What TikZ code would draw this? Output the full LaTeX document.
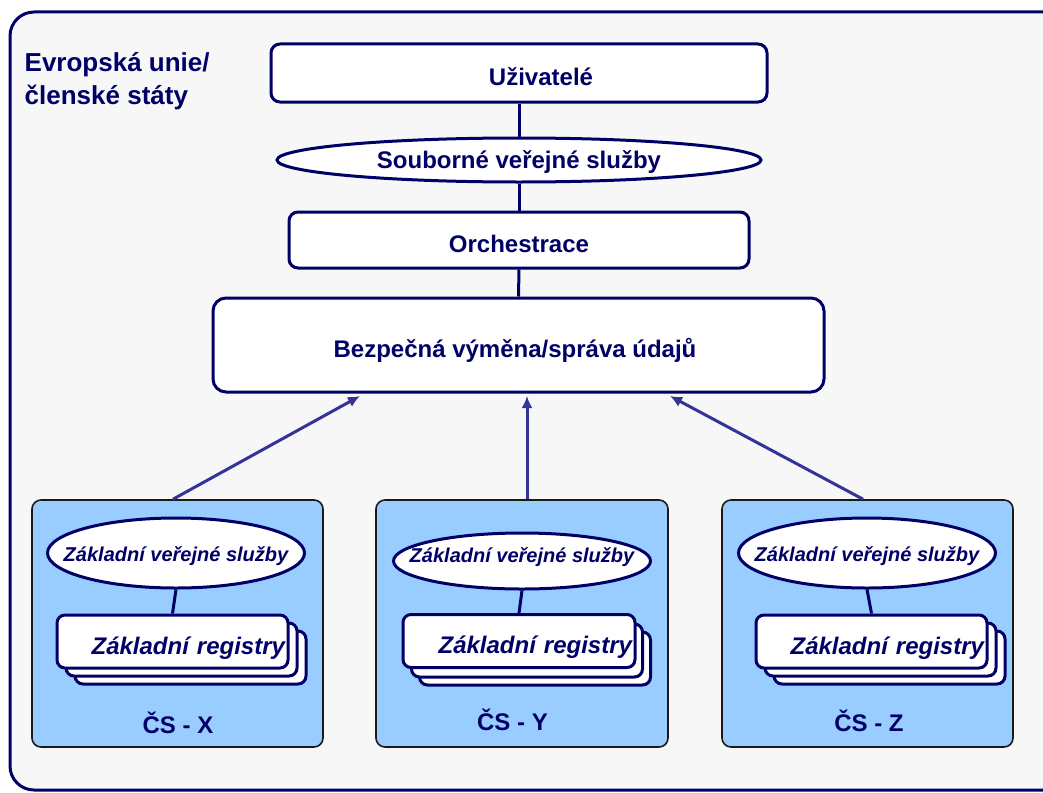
\documentclass[tikz,border=0pt]{standalone}
\usepackage{fontspec}
\setmainfont{Liberation Sans}
\usetikzlibrary{shapes.geometric,arrows.meta}
\definecolor{navy}{HTML}{000066}
\definecolor{arrowblue}{HTML}{333399}
\definecolor{msfill}{HTML}{99CCFF}
\definecolor{panel}{HTML}{F7F7F7}
\definecolor{msedge}{HTML}{1A1A1A}
\begin{document}
\begin{tikzpicture}[x=1pt,y=-1pt,
  every node/.style={text=navy, font=\bfseries\fontsize{24}{28}\selectfont},
  layerbox/.style={draw=navy, line width=3pt, fill=white, rectangle, rounded corners=9pt, inner sep=0pt,
    text height=24pt, text depth=0pt},
  layerell/.style={draw=navy, line width=3pt, fill=white, ellipse, inner sep=0pt},
  msbox/.style={draw=msedge, line width=1.6pt, fill=msfill, rectangle, rounded corners=9pt, inner sep=0pt, minimum width=291pt, minimum height=247pt},
  svcell/.style={layerell, minimum width=257pt, minimum height=70pt},
  svctext/.style={font=\bfseries\itshape\fontsize{20}{24}\selectfont, text height=16pt, text depth=0pt},
  regbox/.style={layerbox, rounded corners=8pt, minimum width=231pt, minimum height=53pt},
  regfront/.style={regbox, text width=225pt, align=right, inner xsep=3pt, text height=25pt, text depth=0pt,
    font=\bfseries\itshape\fontsize{24}{28}\selectfont},
  link/.style={draw=navy, line width=3pt},
  feed/.style={draw=arrowblue, line width=3pt, -{Latex[length=12pt,width=11pt]}},
  mslabel/.style={anchor=base, inner sep=0pt, font=\bfseries\fontsize{24}{28}\selectfont}
]
\useasboundingbox (0,0) rectangle (1043,792);
\clip (0,0) rectangle (1043,792);
\fill[white] (0,0) rectangle (1043,792);

% outer frame
\draw[draw=navy, line width=3pt, fill=panel, rounded corners=24pt] (10,12) rectangle (1075,790);

% title
\node[anchor=base west, inner sep=0pt, font=\bfseries\fontsize{26}{30}\selectfont] (title1) at (24.5,71.7) {Evropská unie/};
\node[anchor=base west, inner sep=0pt, font=\bfseries\fontsize{26}{30}\selectfont] (title2) at (24.5,104) {členské státy};

% upper layers
\node[layerbox, minimum width=496pt, minimum height=58pt] (users) at (519,73) {\hspace*{44pt}Uživatelé};
\node[layerell, minimum width=484pt, minimum height=44pt,
  label={[text=navy, text height=16pt, text depth=0pt]center:Souborné veřejné služby}] (composite) at (519,160) {};
\node[layerbox, minimum width=460pt, minimum height=56pt] (orch) at (519,240) {Orchestrace};
\node[layerbox, rounded corners=13pt, minimum width=611pt, minimum height=94pt] (exchange) at (518.5,345) {Bezpečná výměna/správa údajů\hspace*{7pt}};

\draw[link] (users.south) -- (composite.north);
\draw[link] (composite.south) -- (orch.north);
\draw[link] (orch.south) -- (exchange.north);

% member states
\node[msbox] (msx) at (177.5,623.5) {};
\node[msbox, minimum width=292pt] (msy) at (522,623.5) {};
\node[msbox] (msz) at (867.5,623.5) {};

% state X
\node[svcell, label={[svctext]center:Základní veřejné služby}] (svcx) at (176,553) {};
\node[regbox] (regx3) at (190.5,657.5) {};
\node[regbox] (regx2) at (181.5,649.5) {};
\node[regfront] (regx) at (172.5,641.5) {Základní registry};
\draw[link] (svcx.south) -- (regx.north);
\node[mslabel] (labx) at (178,733) {ČS - X};

% state Y
\node[svcell, minimum height=56pt, label={[svctext, yshift=7pt]center:Základní veřejné služby}] (svcy) at (522,561) {};
\node[regbox] (regy3) at (535,658.5) {};
\node[regbox] (regy2) at (527,650.5) {};
\node[regfront, minimum width=232pt, text width=226pt] (regy) at (519,641) {Základní registry};
\draw[link] (svcy.south) -- (regy.north);
\node[mslabel] (laby) at (512.5,730) {ČS - Y};

% state Z
\node[svcell, label={[svctext]center:Základní veřejné služby}] (svcz) at (867,553) {};
\node[regbox] (regz3) at (889.5,657.5) {};
\node[regbox] (regz2) at (880.5,649.5) {};
\node[regfront] (regz) at (871.5,641.5) {Základní registry};
\draw[link] (svcz.south) -- (regz.north);
\node[mslabel] (labz) at (869,731.5) {ČS - Z};

% data feeds into the exchange layer
\coordinate (tipx) at (360,396);
\coordinate (tipy) at (527,396);
\coordinate (tipz) at (670,396);
\draw[feed] ([xshift=-4.5pt]msx.north) -- (tipx);
\draw[feed] ([xshift=5pt]msy.north) -- (tipy);
\draw[feed] ([xshift=-4.5pt]msz.north) -- (tipz);
\end{tikzpicture}
\end{document}
